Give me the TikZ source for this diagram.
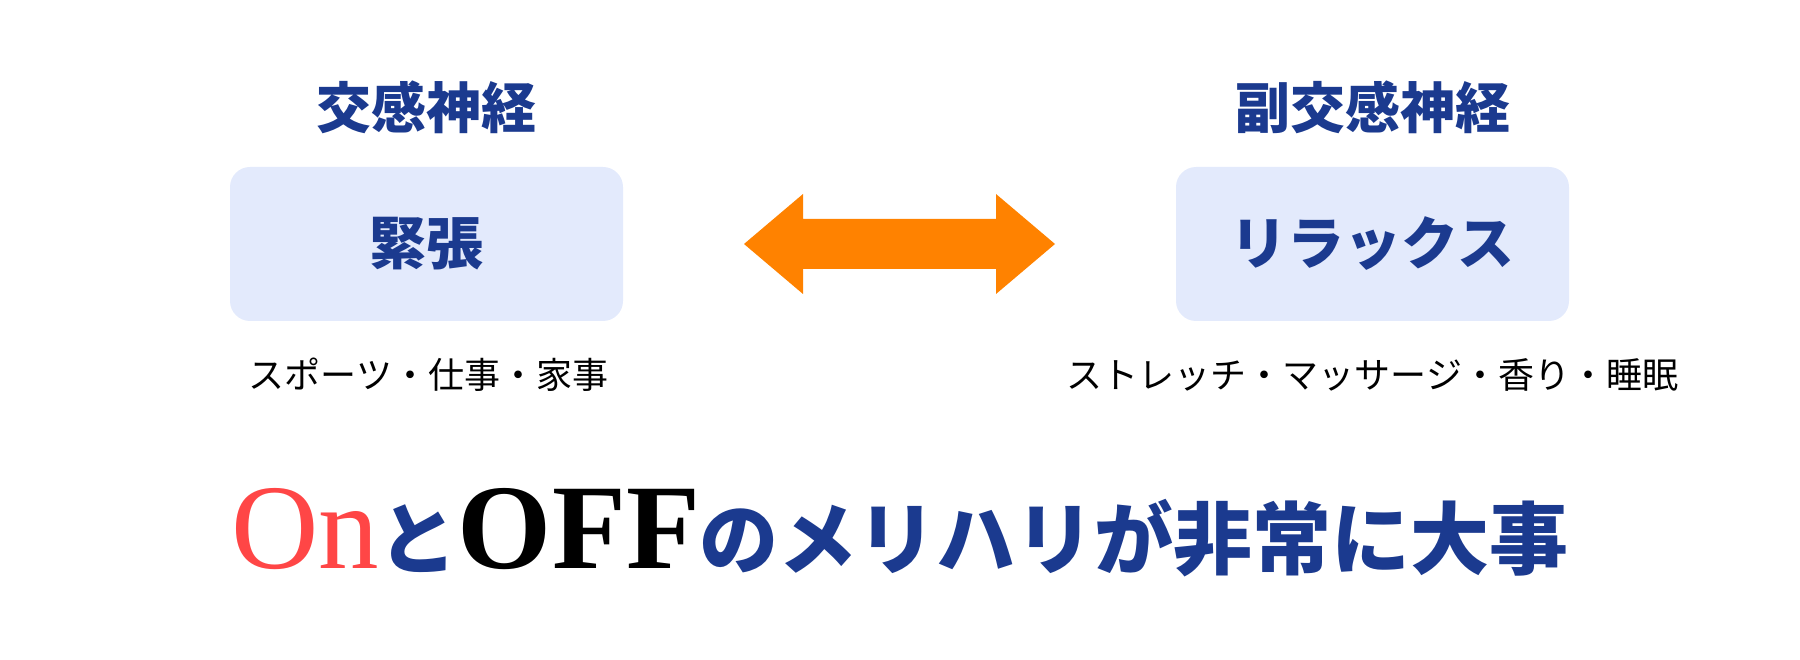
\documentclass[tikz,border=0pt]{standalone}
\usepackage{fontspec}
\newfontfamily\cjk{Noto Sans CJK JP}
\newfontfamily\latinserif{Liberation Serif}
\usetikzlibrary{positioning}
\definecolor{navy}{RGB}{27,58,143}
\definecolor{paleblue}{RGB}{227,234,252}
\definecolor{vivid}{RGB}{255,130,0}
\definecolor{onred}{RGB}{255,70,70}

\begin{document}
\begin{tikzpicture}
		[x=1pt, y=-1pt,
		panel/.style={fill=paleblue, rounded corners=20pt, minimum width=393pt, minimum height=154pt,
			inner sep=0pt, text=navy, font=\cjk\bfseries\fontsize{57}{60}\selectfont},
		title/.style={anchor=base, text=navy, font=\cjk\bfseries\fontsize{55}{60}\selectfont},
		example/.style={anchor=base, font=\cjk\fontsize{36}{40}\selectfont}]
		\useasboundingbox (0,0) rectangle (1800,660);

		\node[panel] (L) at (426.5,244) {緊張};
		\node[panel] (R) at (1372.5,244) {リラックス};
		\node[title] (LT) at ([yshift=38pt]L.north) {交感神経};
		\node[title] (RT) at ([yshift=38pt]R.north) {副交感神経};
		\node[example] (LE) at ([xshift=2pt, yshift=-67pt]L.south) {スポーツ・仕事・家事};
		\node[example] (RE) at ([yshift=-67pt]R.south) {ストレッチ・マッサージ・香り・睡眠};

		% on <-> off
		\coordinate (M) at (899.5,244);
		\fill[vivid, shift={(M)}] (-155.5,0) -- (-96.5,-50) -- (-96.5,-25) -- (96.5,-25) -- (96.5,-50)
			-- (155.5,0) -- (96.5,50) -- (96.5,25) -- (-96.5,25) -- (-96.5,50) -- cycle;

		\node[anchor=base, inner sep=0pt] (Motto) at (900,568)
			{{\latinserif\fontsize{121}{130}\selectfont\color{onred}On}%
			{\cjk\bfseries\fontsize{79}{85}\selectfont\color{navy}と}%
			{\latinserif\bfseries\fontsize{121}{130}\selectfont OFF}%
			{\cjk\bfseries\fontsize{79}{85}\selectfont\color{navy}のメリハリが非常に大事}};
	\end{tikzpicture}
\end{document}
